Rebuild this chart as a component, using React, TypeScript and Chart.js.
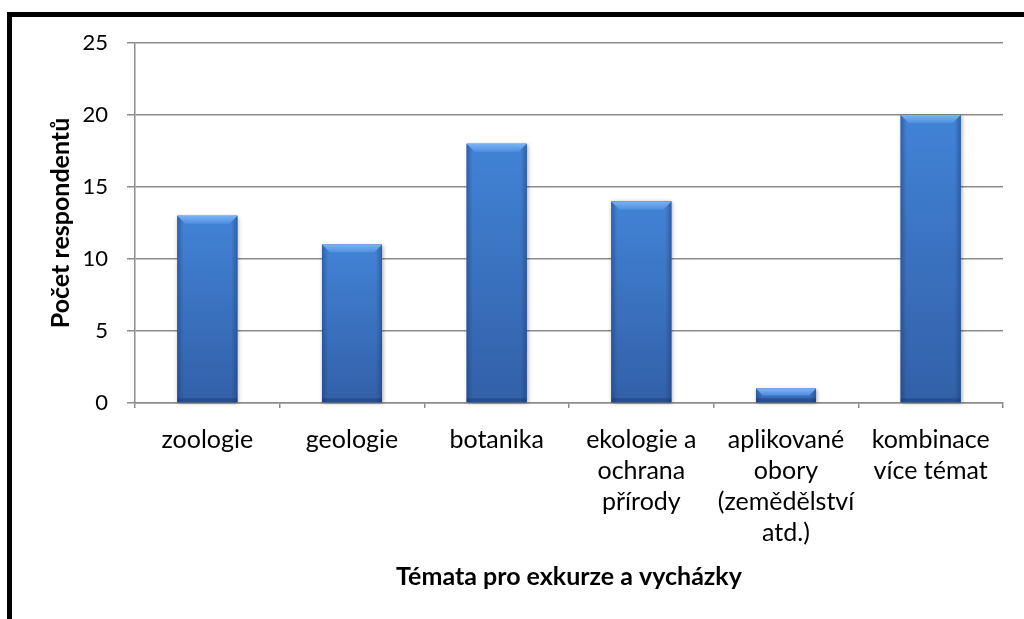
import React, { useEffect, useRef } from "react";
import { Chart, registerables } from "chart.js";

Chart.register(...registerables);

const categories: string[][] = [
  ["zoologie"],
  ["geologie"],
  ["botanika"],
  ["ekologie a", "ochrana", "přírody"],
  ["aplikované", "obory", "(zemědělství", "atd.)"],
  ["kombinace", "více témat"],
];
const counts: number[] = [13, 11, 18, 14, 1, 20];
const yTicks: number[] = [0, 5, 10, 15, 20, 25];
const yTitle = "Počet respondentů";
const xTitle = "Témata pro exkurze a vycházky";

const FONT = "Lato, 'Noto Sans', sans-serif";

const framePlugin = {
  id: "frame",
  beforeDraw(chart: any) {
    const c = chart.ctx;
    c.save();
    c.fillStyle = "#ffffff";
    c.fillRect(0, 0, chart.width, chart.height);
    c.strokeStyle = "#000000";
    c.lineWidth = 5;
    c.strokeRect(9.5, 14.5, 1200, 800);
    c.restore();
  },
};

const bevelPlugin = {
  id: "bevel",
  afterDatasetsDraw(chart: any) {
    const c = chart.ctx;
    const meta = chart.getDatasetMeta(0);
    meta.data.forEach((bar: any) => {
      const { x, y, base, width } = bar.getProps(["x", "y", "base", "width"], true);
      const l = x - width / 2;
      const r = x + width / 2;
      const t = Math.min(y, base);
      const b = Math.max(y, base);
      const h = b - t;
      c.save();
      c.shadowColor = "rgba(0,0,0,0.35)";
      c.shadowBlur = 4;
      c.shadowOffsetX = 1;
      c.shadowOffsetY = 1;
      const g = c.createLinearGradient(0, t, 0, b);
      g.addColorStop(0, "#4283d6");
      g.addColorStop(1, "#3260a8");
      c.fillStyle = g;
      c.fillRect(l, t, width, h);
      c.shadowColor = "transparent";
      const hg = c.createLinearGradient(l, 0, r, 0);
      hg.addColorStop(0, "rgba(25,55,110,0.45)");
      hg.addColorStop(0.1, "rgba(25,55,110,0.0)");
      hg.addColorStop(0.9, "rgba(25,55,110,0.0)");
      hg.addColorStop(1, "rgba(25,55,110,0.45)");
      c.fillStyle = hg;
      c.fillRect(l, t, width, h);
      const be = Math.min(4, h / 3);
      c.fillStyle = "rgba(20,45,95,0.35)";
      c.fillRect(l, b - be, width, be);
      const bv = Math.min(8, h / 2);
      const tg = c.createLinearGradient(0, t, 0, t + bv);
      tg.addColorStop(0, "#7ab3f3");
      tg.addColorStop(1, "#4f8fdf");
      c.fillStyle = tg;
      c.beginPath();
      c.moveTo(l, t);
      c.lineTo(r, t);
      c.lineTo(r - bv, t + bv);
      c.lineTo(l + bv, t + bv);
      c.closePath();
      c.fill();
      c.restore();
    });
  },
};

export default function App() {
  const ref = useRef<HTMLCanvasElement | null>(null);
  useEffect(() => {
    if (!ref.current) return;
    const chart = new Chart(ref.current, {
      type: "bar",
      data: {
        labels: categories,
        datasets: [
          {
            data: counts,
            backgroundColor: "#3c72c2",
            borderWidth: 0,
            barPercentage: 0.415,
            categoryPercentage: 1,
          },
        ],
      },
      options: {
        responsive: false,
        animation: false,
        devicePixelRatio: 1,
        layout: { padding: { left: 0, right: 21, top: 43, bottom: 0 } },
        plugins: {
          legend: { display: false },
          tooltip: { enabled: false },
        },
        scales: {
          x: {
            grid: {
              display: true,
              drawOnChartArea: false,
              drawTicks: true,
              tickLength: 5,
              color: "#8c8c8c",
              lineWidth: 1.5,
            },
            border: { display: true, color: "#8c8c8c", width: 1.5 },
            ticks: {
              color: "#000000",
              font: { family: FONT, size: 25, lineHeight: "31px" },
              padding: 16,
              maxRotation: 0,
              autoSkip: false,
            },
            title: {
              display: true,
              text: xTitle,
              color: "#000000",
              font: { family: FONT, size: 25, weight: "bold", lineHeight: "30px" },
              padding: { top: 0, bottom: 27 },
            },
            afterFit(scale: any) {
              scale.height = 216;
            },
          },
          y: {
            min: 0,
            max: 25,
            afterBuildTicks(scale: any) {
              scale.ticks = yTicks.map((v) => ({ value: v }));
            },
            grid: {
              color: "#8c8c8c",
              lineWidth: 1.5,
              tickLength: 8,
            },
            border: { display: true, color: "#8c8c8c", width: 1.5 },
            ticks: {
              color: "#000000",
              font: { family: FONT, size: 22 },
              padding: 19,
            },
            title: {
              display: true,
              text: yTitle,
              color: "#000000",
              font: { family: FONT, size: 25, weight: "bold", lineHeight: "30px" },
              padding: { top: 46, bottom: 0 },
            },
            afterFit(scale: any) {
              scale.width = 135;
            },
          },
        },
      },
      plugins: [framePlugin, bevelPlugin],
    });
    return () => chart.destroy();
  }, []);
  return (
    <div style={{ position: "absolute", left: 0, top: 0, width: 1024, height: 619 }}>
      <canvas ref={ref} width={1024} height={619} style={{ display: "block" }} />
    </div>
  );
}
